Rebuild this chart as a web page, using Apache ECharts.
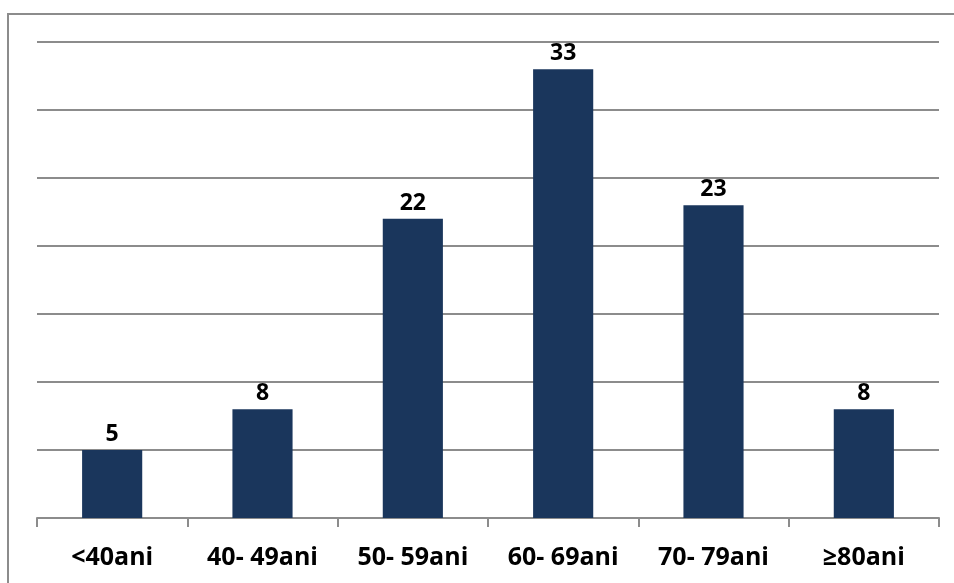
<!DOCTYPE html>
<html>
<head>
<meta charset="utf-8">
<style>
  html, body { margin: 0; padding: 0; background: #fff; }
  #chart { width: 954px; height: 583px; }
</style>
<script src="https://cdn.jsdelivr.net/npm/echarts@6/dist/echarts.min.js"></script>
</head>
<body>
<div id="chart"></div>
<script>
// Patient counts by age group
const categories = ['<40ani', '40- 49ani', '50- 59ani', '60- 69ani', '70- 79ani', '≥80ani'];
const counts = [5, 8, 22, 33, 23, 8];

const chart = echarts.init(document.getElementById('chart'));
chart.setOption({
  animation: false,
  backgroundColor: '#fff',
  graphic: [{
    type: 'rect',
    shape: { x: 8, y: 14, width: 1000, height: 1000 },
    style: { fill: 'none', stroke: '#8c8c8c', lineWidth: 2 },
    silent: true
  }],
  grid: { left: 37, right: 15, top: 42, bottom: 65 },
  xAxis: {
    type: 'category',
    data: categories,
    axisLine: { lineStyle: { color: '#8c8c8c', width: 2 } },
    axisTick: { show: true, length: 9, lineStyle: { color: '#8c8c8c', width: 2 } },
    axisLabel: {
      color: '#000', fontSize: 25, fontWeight: 'bold',
      fontFamily: 'Open Sans', margin: 27
    }
  },
  yAxis: {
    type: 'value',
    min: 0, max: 35, interval: 5,
    axisLine: { show: false },
    axisTick: { show: false },
    axisLabel: { show: false },
    splitLine: { lineStyle: { color: '#8c8c8c', width: 2 } }
  },
  series: [{
    type: 'bar',
    data: counts,
    barWidth: '40%',
    itemStyle: { color: '#1a365c' },
    label: {
      show: true, position: 'top', distance: 4,
      color: '#000', fontSize: 23, fontWeight: 'bold', fontFamily: 'Open Sans'
    }
  }]
});
</script>
</body>
</html>
